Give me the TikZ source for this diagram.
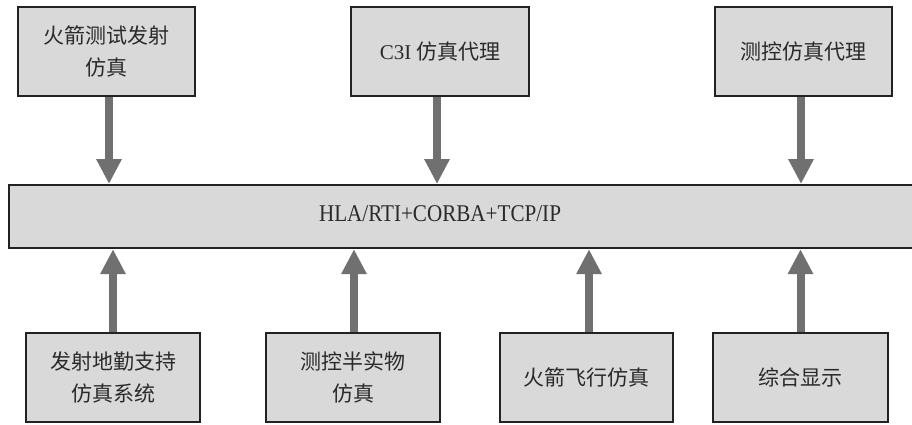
\documentclass[tikz,border=0pt]{standalone}
\usepackage{fontspec}
\setmainfont{Liberation Serif}
\newfontfamily\cjk{Noto Sans CJK SC}
\newfontfamily\hlafont[FakeStretch=0.88]{Liberation Serif}
\usetikzlibrary{arrows.meta}
\definecolor{boxfill}{HTML}{D9D9D9}
\definecolor{boxline}{HTML}{222222}
\definecolor{arrowcol}{HTML}{707070}
\definecolor{txt}{HTML}{2A2A2A}
\tikzset{
  unit/.style={draw=boxline, line width=2pt, fill=boxfill, rectangle,
    minimum height=89pt, inner sep=0pt, align=center, text=txt,
    font=\cjk\fontsize{21}{32}\selectfont},
  bus/.style={draw=boxline, line width=2.2pt, fill=boxfill, rectangle,
    minimum height=63pt, minimum width=910pt, inner sep=0pt, text=txt,
    font=\hlafont\fontsize{24}{28}\selectfont},
  flow/.style={draw=arrowcol, line width=8pt,
    -{Triangle[width=24pt,length=25pt]}, arrowcol},
}
\begin{document}
\begin{tikzpicture}[x=1pt,y=-1pt]
\useasboundingbox (0,0) rectangle (912,425);
% bus
\node[bus, anchor=north west] (bus) at (8,184) {};
\node[text=txt, font=\hlafont\fontsize{24}{28}\selectfont] (bustext) at (440,214) {HLA/RTI+CORBA+TCP/IP};
% top boxes
\node[unit, minimum width=177pt] (a) at (106.5,51.5) {火箭测试发射\\仿真};
\node[unit, minimum width=178pt] (b) at (440,51.5) {{\rmfamily C3I} 仿真代理};
\node[unit, minimum width=177pt] (c) at (803.5,51.5) {测控仿真代理};
% bottom boxes
\node[unit, minimum width=174pt] (d) at (113,377.5) {发射地勤支持\\仿真系统};
\node[unit, minimum width=174pt] (e) at (353,377.5) {测控半实物\\仿真};
\node[unit, minimum width=173pt] (f) at (586.5,377.5) {火箭飞行仿真};
\node[unit, minimum width=175pt] (g) at (800.5,377.5) {综合显示};
% arrows
\draw[flow] ([xshift=2.5pt]a.south) -- ([xshift=2.5pt]a.south |- bus.north);
\draw[flow] ([xshift=-3pt]b.south) -- ([xshift=-3pt]b.south |- bus.north);
\draw[flow] ([xshift=-2.5pt]c.south) -- ([xshift=-2.5pt]c.south |- bus.north);
\draw[flow] (d.north) -- (d.north |- bus.south);
\draw[flow] ([xshift=1pt]e.north) -- ([xshift=1pt]e.north |- bus.south);
\draw[flow] ([xshift=2.5pt]f.north) -- ([xshift=2.5pt]f.north |- bus.south);
\draw[flow] (g.north) -- (g.north |- bus.south);
\end{tikzpicture}
\end{document}
